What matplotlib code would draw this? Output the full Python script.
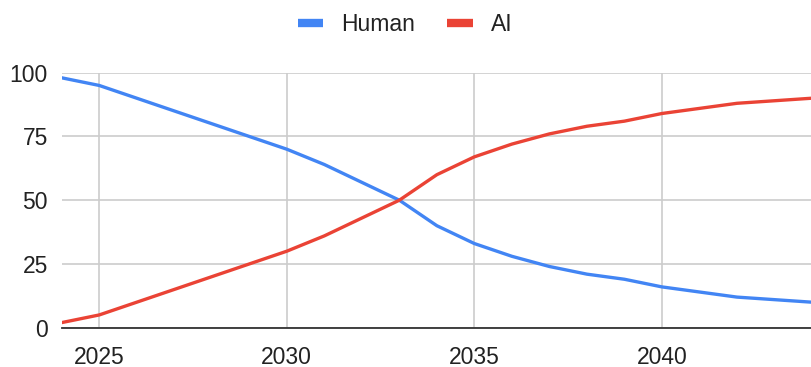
import matplotlib
matplotlib.use("Agg")
import matplotlib.pyplot as plt

years = list(range(2024, 2045))
human = [98, 95, 90, 85, 80, 75, 70, 64, 57, 50, 40, 33, 28, 24, 21, 19, 16, 14, 12, 11, 10]
ai = [2, 5, 10, 15, 20, 25, 30, 36, 43, 50, 60, 67, 72, 76, 79, 81, 84, 86, 88, 89, 90]
x_ticks = [2025, 2030, 2035, 2040]
y_ticks = [0, 25, 50, 75, 100]

plt.rcParams['font.family'] = ['Liberation Sans', 'DejaVu Sans']

fig = plt.figure(figsize=(8.12, 3.67), dpi=100)
ax = fig.add_axes([61.7 / 812, 1 - 327.7 / 367, 1 - 61.7 / 812, (327.7 - 72.7) / 367])

ax.plot(years, human, color='#4285F4', lw=2.4, label='Human', solid_capstyle='butt', zorder=3)
ax.plot(years, ai, color='#EA4335', lw=2.4, label='AI', solid_capstyle='butt', zorder=3)

ax.set_xlim(2024, 2044)
ax.set_ylim(0, 100)
ax.set_xticks(x_ticks)
ax.set_yticks(y_ticks)
ax.grid(True, color='#cccccc', lw=1.2)
ax.set_axisbelow(True)
for s in ['top', 'right', 'left']:
    ax.spines[s].set_visible(False)
ax.spines['bottom'].set_color('#333333')
ax.spines['bottom'].set_linewidth(1.3)
ax.spines['bottom'].set_zorder(4)
ax.tick_params(axis='both', length=0, labelsize=16.5, colors='#222222')
ax.tick_params(axis='y', pad=10)
ax.tick_params(axis='x', pad=13)

leg = fig.legend(loc='center', bbox_to_anchor=(0.499, 0.932), ncol=2, frameon=False,
                 fontsize=16.5, handlelength=1.1, handletextpad=0.8, columnspacing=1.4,
                 labelcolor='#222222')
for h in leg.legend_handles:
    h.set_linewidth(6)

fig.savefig('out.png', dpi=100)
